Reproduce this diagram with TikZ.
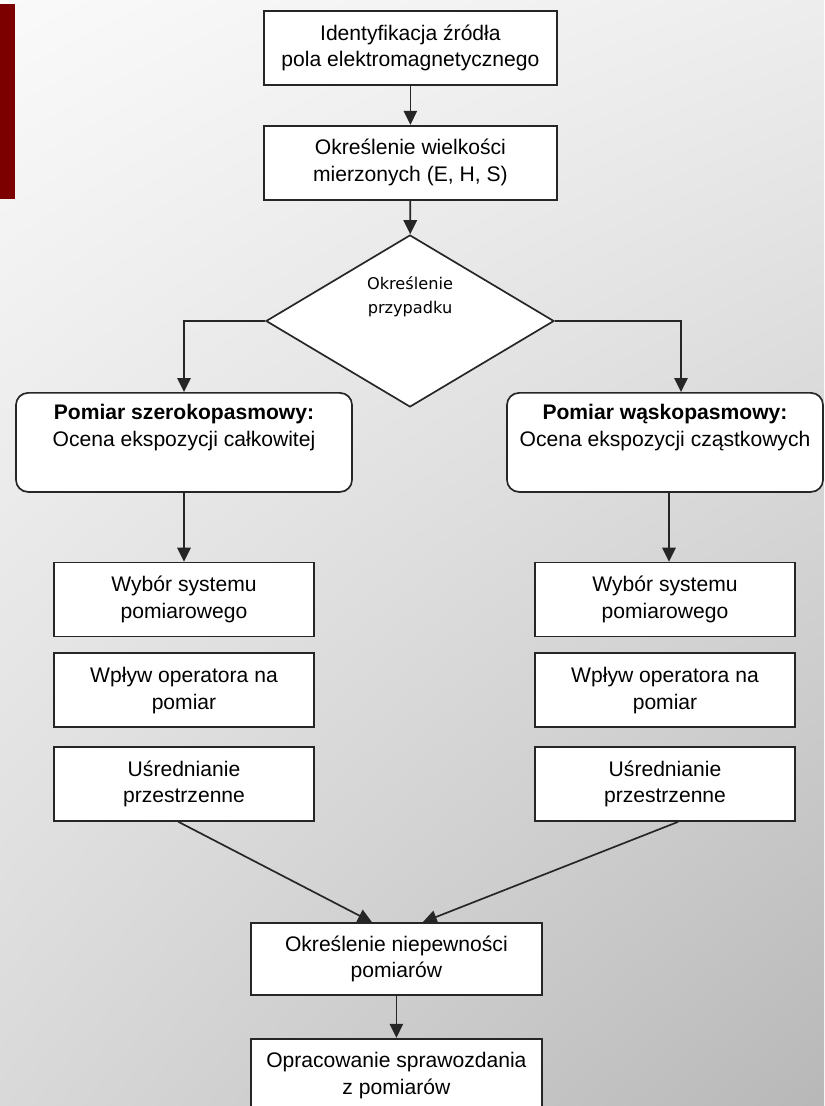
\documentclass[tikz,border=0pt]{standalone}
\usepackage{fontspec}
\setmainfont{Liberation Sans}
\newfontfamily\casefont{DejaVu Sans}
\usepackage{tikz}
\usetikzlibrary{shapes.geometric, arrows.meta, positioning, shadings}
\definecolor{mline}{HTML}{262626}
\definecolor{mred}{HTML}{7D0000}
\tikzstyle{stage} = [rectangle, draw=mline, line width=1.2pt, fill=white, minimum width=7.33cm, minimum height=1.85cm, text centered, inner sep=2pt, font=\fontsize{15}{19}\selectfont]
\tikzstyle{smallstage} = [stage, minimum width=6.5cm]
\tikzstyle{branch} = [stage, rounded corners=0.3cm, minimum height=2.475cm]
\tikzstyle{choice} = [diamond, draw=mline, line width=1.2pt, fill=white, minimum width=7.2cm, minimum height=4.3cm, inner sep=0pt, font=\casefont\fontsize{11.5}{17}\selectfont]
\tikzstyle{flow} = [line width=1.2pt, draw=mline, ->, >={Triangle[width=9.5pt,length=10pt]}]

\begin{document}
\begin{tikzpicture}[align=center, node distance = 1cm]
  \useasboundingbox (0,0) rectangle (20.6,-27.65);
  \shade [upper left=white!98!black, upper right=white!93!black, lower left=white!85!black, lower right=white!72!black] (0,0) rectangle (20.6,-27.65);
  \fill [mred] (0,-0.1) rectangle (0.375,-4.975);
  \node (id) [stage] at (10.26,-1.2) {Identyfikacja źródła\\pola elektromagnetycznego};
  \node (qty) [stage, below=0.975cm of id] {Określenie wielkości\\mierzonych (E, H, S)};
    \draw [flow] (id) -- (qty);
  \node (case) [choice] at (10.25,-8.025) {\raisebox{0.5cm}[0pt][0pt]{\begin{tabular}{@{}c@{}}Określenie\\przypadku\end{tabular}}};
    \draw [flow] (qty) -- (case);
  \node (wide) [branch, minimum width=8.4cm] at (4.6,-11.06) {\textbf{Pomiar szerokopasmowy:}\\Ocena ekspozycji całkowitej\\\strut};
  \node (narrow) [branch, minimum width=7.9cm] at (16.625,-11.06) {\textbf{Pomiar wąskopasmowy:}\\Ocena ekspozycji cząstkowych\\\strut};
  \draw [flow] (case.west) -| (wide.north);
  \draw [flow] (case.east) -| ([xshift=0.4cm]narrow.north);
  % szerokopasmowy
  \node (sel1) [smallstage, below=1.725cm of wide] {Wybór systemu\\pomiarowego};
  \node (op1) [smallstage, below=0.375cm of sel1] {Wpływ operatora na\\pomiar};
  \node (avg1) [smallstage, below=0.45cm of op1] {Uśrednianie\\przestrzenne};
  \draw [flow] (wide.south) -- (wide.south |- sel1.north);
  % waskopasmowy
  \node (sel2) [smallstage, below=1.725cm of narrow] {Wybór systemu\\pomiarowego};
  \node (op2) [smallstage, below=0.375cm of sel2] {Wpływ operatora na\\pomiar};
  \node (avg2) [smallstage, below=0.45cm of op2] {Uśrednianie\\przestrzenne};
  \draw [flow] ([xshift=0.1cm]narrow.south) -- ([xshift=0.1cm]narrow.south |- sel2.north);
  \node (unc) [stage, minimum width=7.28cm, minimum height=1.8cm] at (9.91,-23.975) {Określenie niepewności\\pomiarów};
  \node (report) [stage, minimum width=7.28cm, below=1.05cm of unc] {Opracowanie sprawozdania\\z pomiarów};
  \draw [flow] ([xshift=-0.14cm]avg1.south) -- ([xshift=-0.61cm]unc.north);
  \draw [flow] ([xshift=0.33cm]avg2.south) -- ([xshift=0.66cm]unc.north);
  \draw [flow] (unc) -- (report);
\end{tikzpicture}
\end{document}
